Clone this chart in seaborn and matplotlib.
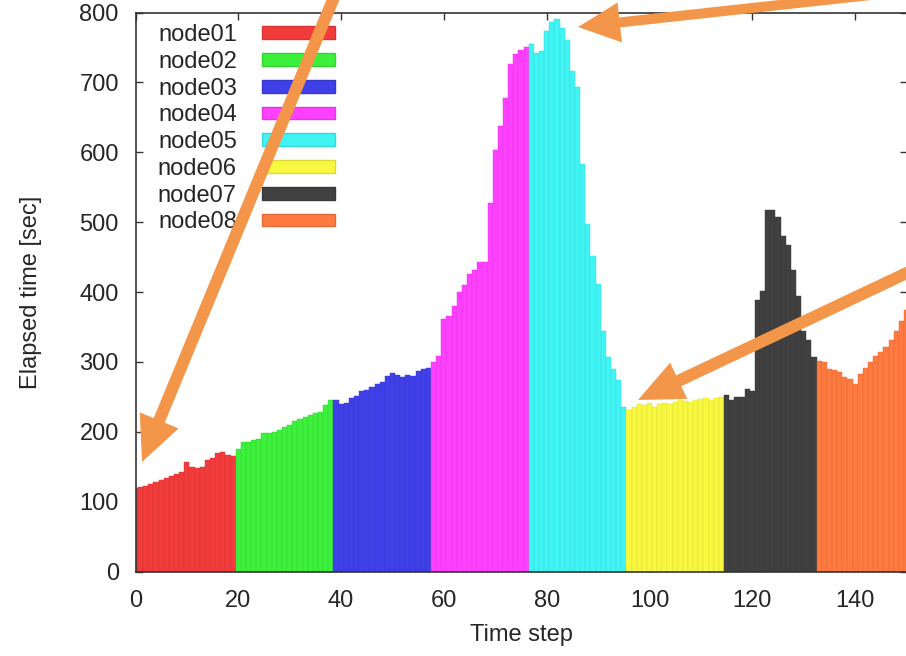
import matplotlib
matplotlib.use("Agg")
import matplotlib.pyplot as plt
import matplotlib.colors as mcolors
from matplotlib.patches import FancyArrow, Patch
import numpy as np
import pandas as pd
import seaborn as sns

# ---------------- data ----------------
nodes = ["node01", "node02", "node03", "node04", "node05", "node06", "node07", "node08"]
colors = ["#f23c3c", "#3cf03c", "#4040e8", "#ff40ff", "#40f4f4", "#f8f840", "#404040", "#ff7a40"]
start_steps = [0, 20, 39, 58, 77, 96, 115, 133]

node01_times = [120, 121, 123, 126, 128, 131, 134, 137, 140, 143, 157, 150, 148, 150, 160, 163, 170, 171, 167, 166]
node02_times = [175, 185, 186, 188, 190, 198, 199, 200, 203, 207, 210, 215, 219, 221, 224, 227, 228, 238, 246]
node03_times = [245, 240, 242, 248, 252, 258, 260, 264, 268, 272, 280, 284, 282, 278, 282, 280, 287, 290, 292]
node04_times = [300, 308, 362, 366, 380, 400, 410, 426, 432, 443, 443, 527, 604, 638, 678, 726, 740, 747, 750]
node05_times = [755, 742, 745, 774, 786, 791, 778, 760, 717, 693, 583, 497, 452, 412, 345, 307, 290, 274, 236]
node06_times = [232, 236, 240, 238, 242, 236, 240, 242, 240, 243, 245, 244, 243, 246, 247, 248, 246, 249, 250]
node07_times = [253, 245, 250, 250, 262, 258, 388, 402, 517, 517, 507, 480, 467, 431, 395, 345, 331, 307]
node08_times = [302, 300, 290, 288, 286, 279, 275, 269, 283, 292, 300, 308, 315, 322, 332, 345, 358, 375]

times = [node01_times, node02_times, node03_times, node04_times,
         node05_times, node06_times, node07_times, node08_times]

x_ticks = [0, 20, 40, 60, 80, 100, 120, 140]
y_ticks = [0, 100, 200, 300, 400, 500, 600, 700, 800]

rows = []
for name, s0, vals in zip(nodes, start_steps, times):
    for i, v in enumerate(vals):
        rows.append((s0 + i, v, name))
df = pd.DataFrame(rows, columns=["step", "time", "node"])

# ---------------- style ----------------
sns.set_theme(style="ticks")
plt.rcParams["font.family"] = ["Liberation Sans", "DejaVu Sans"]
text_color = "#262626"

W, H = 906, 656
fig = plt.figure(figsize=(W / 100, H / 100), dpi=100)
fig.patch.set_facecolor("white")
ax_left, ax_right, ax_top, ax_bottom = 135.5, 906.5, 12.5, 571.7
ax = fig.add_axes([ax_left / W, (H - ax_bottom) / H,
                   (ax_right - ax_left) / W, (ax_bottom - ax_top) / H])

palette = dict(zip(nodes, colors))
sns.barplot(data=df, x="step", y="time", hue="node", palette=palette,
            native_scale=True, width=1.0, dodge=False, saturation=1,
            legend=False, ax=ax, linewidth=0.3)


def darker(c, f=0.88):
    r, g, b = mcolors.to_rgb(c)
    return (r * f, g * f, b * f)


for p in ax.patches:
    p.set_edgecolor(darker(p.get_facecolor()[:3]))

ax.set_xlim(0, 150)
ax.set_ylim(0, 800)
ax.set_xticks(x_ticks)
ax.set_yticks(y_ticks)
ax.set_xticklabels([str(t) for t in x_ticks])
ax.set_yticklabels([str(t) for t in y_ticks])
ax.tick_params(direction="in", top=True, right=True, length=5, width=1,
               labelsize=17, colors="#333333", labelcolor=text_color)
ax.tick_params(axis="x", pad=13)
ax.tick_params(axis="y", pad=12)
for s in ax.spines.values():
    s.set_color("#333333")
    s.set_linewidth(1.2)

ax.set_xlabel("Time step", fontsize=17, color=text_color)
ax.xaxis.set_label_coords(0.5, -0.094)
ax.set_ylabel("Elapsed time [sec]", fontsize=17, color=text_color)
ax.yaxis.label.set_verticalalignment("center")
ax.yaxis.set_label_coords(-0.135, 0.5)

handles = [Patch(facecolor=c, edgecolor=darker(c)) for c in colors]
leg = ax.legend(handles, nodes, loc="upper left", bbox_to_anchor=(0.029, 0.979),
                frameon=False, markerfirst=False, fontsize=17,
                handlelength=3.1, handleheight=0.45, labelspacing=0.2,
                borderpad=0, borderaxespad=0, handletextpad=1.05)
for t in leg.get_texts():
    t.set_color(text_color)

# ---------------- orange annotation arrows ----------------
arrow_color = "#f4964a"


def add_arrow(tail, tip, width, head_w, head_l):
    x0, y0 = tail[0] / 100, (H - tail[1]) / 100
    x1, y1 = tip[0] / 100, (H - tip[1]) / 100
    a = FancyArrow(x0, y0, x1 - x0, y1 - y0, width=width / 100,
                   head_width=head_w / 100, head_length=head_l / 100,
                   length_includes_head=True, transform=fig.dpi_scale_trans,
                   color=arrow_color, zorder=20, clip_on=False, linewidth=0)
    fig.add_artist(a)


add_arrow((337, -10), (142, 462), 12, 42, 45)
add_arrow((880, -6), (578, 27), 10, 40, 42)
add_arrow((930, 262), (638, 400), 12, 40, 45)

fig.savefig("out.png", dpi=100)
